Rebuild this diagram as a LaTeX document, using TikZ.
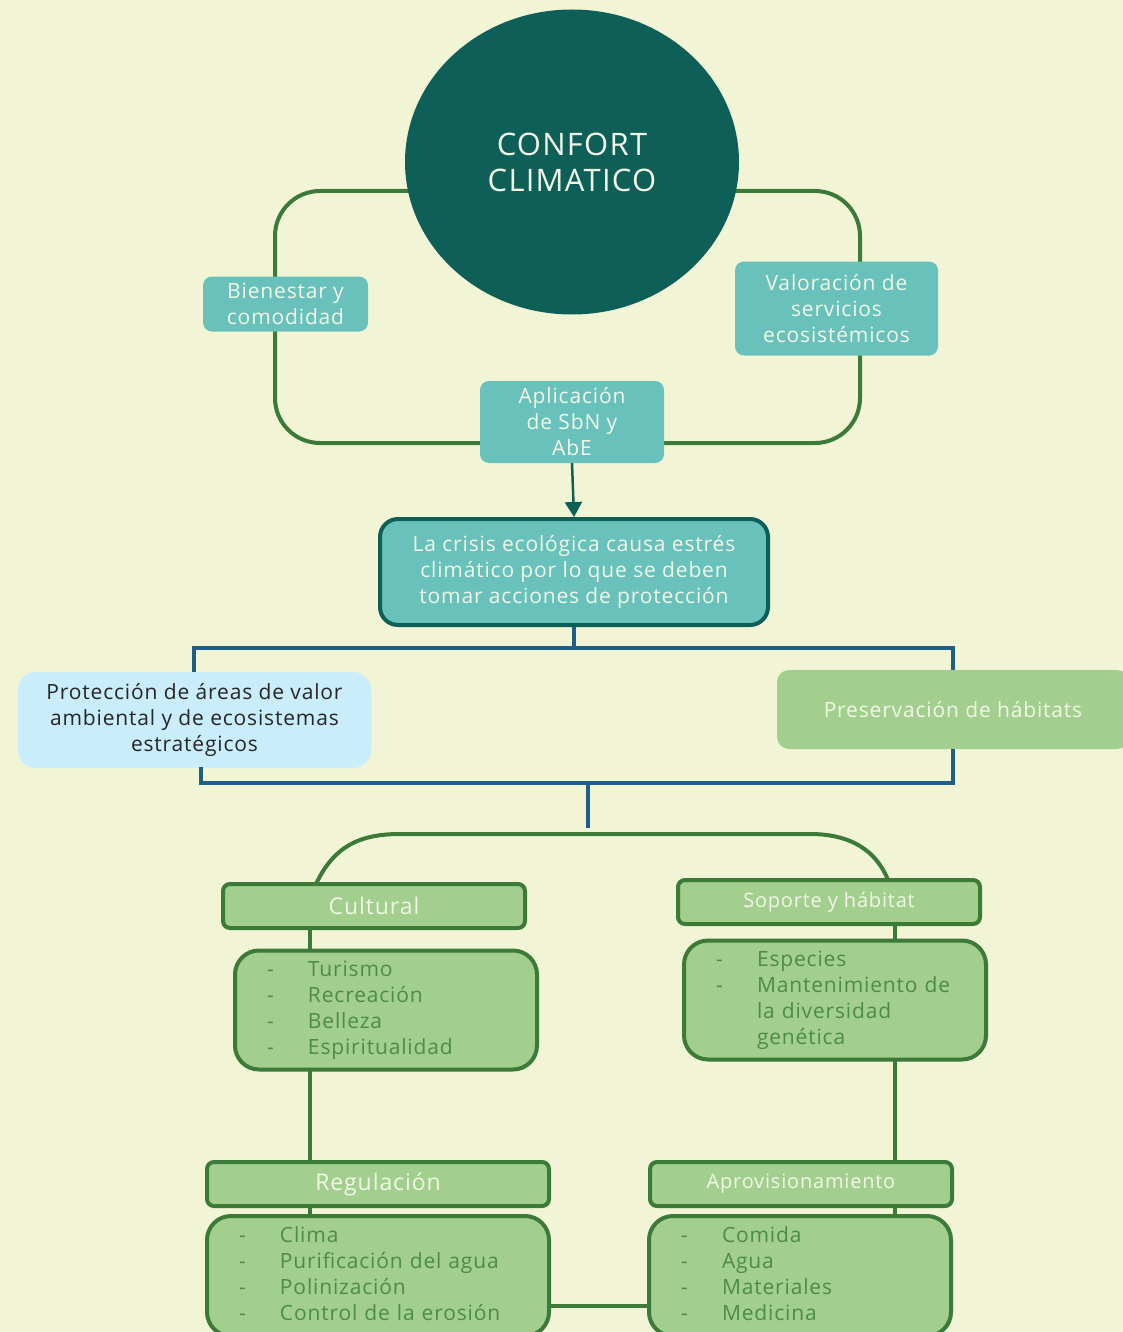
\documentclass[tikz,border=0pt]{standalone}
\usepackage{fontspec}
\setmainfont{Open Sans}[LetterSpace=4]
\usetikzlibrary{arrows.meta}
\usetikzlibrary{shapes.geometric}
\definecolor{fondo}{HTML}{F1F5D5}
\definecolor{oscuro}{HTML}{0D5F57}
\definecolor{turquesa}{HTML}{69C1BC}
\definecolor{verde}{HTML}{3B7A37}
\definecolor{verdeclaro}{HTML}{A2CE8E}
\definecolor{celeste}{HTML}{C9EDFA}
\definecolor{azul}{HTML}{1D5F86}
\definecolor{textoverde}{HTML}{4D8B49}
\definecolor{blanco}{HTML}{F2F7E6}
\tikzset{tealbox/.style = {fill=turquesa, rounded corners=9pt, text=blanco,
                           align=center, inner sep=0pt,
                           font=\fontsize{21}{26}\selectfont},
         greenline/.style = {draw=verde, line width=4pt},
         blueline/.style = {draw=azul, line width=3.5pt},
         titlebox/.style = {draw=verde, line width=4pt, fill=verdeclaro,
                            rounded corners=7pt, text=blanco, inner sep=0pt,
                            minimum height=44pt},
         listbox/.style = {draw=verde, line width=4pt, fill=verdeclaro,
                           rounded corners=24pt, text=textoverde, align=left,
                           inner xsep=32pt, inner ysep=0pt, text width=238pt,
                           font=\fontsize{21}{26}\selectfont}}
\newcommand{\itemlist}[1]{\begin{tabular}{@{}p{41pt}@{}l@{}}#1\end{tabular}}

\begin{document}
\begin{tikzpicture}[x=1pt, y=-1pt]
    \useasboundingbox (0,0) rectangle (1123,1332);
    \fill[fondo] (0,0) rectangle (1123,1332);

    % parte superior
    \draw[greenline, rounded corners=45pt] (275,191) rectangle (860,443);
    \node[ellipse, fill=oscuro, minimum width=334pt, minimum height=305pt,
          text=blanco, align=center, font=\fontsize{31}{36}\selectfont]
          (confort) at (572,162) {CONFORT\\CLIMATICO};
    \node[tealbox, minimum width=165pt, minimum height=55pt] (bienestar)
          at (285.5,304) {Bienestar y\\comodidad};
    \node[tealbox, minimum width=203pt, minimum height=94pt] (valoracion)
          at (836.5,308.5) {Valoración de\\servicios\\ecosistémicos};
    \node[tealbox, minimum width=184pt, minimum height=82pt] (aplicacion)
          at (572,422) {Aplicación\\de SbN y\\AbE};
    \node[tealbox, draw=oscuro, line width=4pt, rounded corners=18pt,
          minimum width=388pt, minimum height=106pt] (crisis)
          at (574,572) {La crisis ecológica causa estrés\\climático por lo que se deben\\tomar acciones de protección};
    \draw[draw=oscuro, line width=2.5pt, -{Triangle[length=15pt, width=17pt]}]
          (aplicacion.south) -- (crisis.north);

    % acciones
    \node[fill=celeste, rounded corners=18pt, align=center, inner sep=0pt,
          text=black!85, minimum width=353pt, minimum height=96pt,
          font=\fontsize{21}{26}\selectfont] (proteccion)
          at (194.5,720) {Protección de áreas de valor\\ambiental y de ecosistemas\\estratégicos};
    \node[fill=verdeclaro, rounded corners=12pt, inner sep=0pt, text=blanco,
          minimum width=352pt, minimum height=79pt,
          font=\fontsize{21}{26}\selectfont] (preservacion)
          at (953,709.5) {Preservación de hábitats};
    \draw[blueline] (crisis.south) -- (574,648);
    \draw[blueline] (194,672) -- (194,648) -- (953,648) -- (953,670);
    \draw[blueline] (201,767) -- (201,783) -- (953,783) -- (953,749);
    \draw[blueline] (588,783) -- (588,828);

    % servicios ecosistemicos
    \draw[greenline] (316,884) .. controls (334,846) and (360,834) .. (400,834)
          -- (810,834) .. controls (850,834) and (876,850) .. (888,880);
    \draw[greenline] (310,927) -- (310,1161);
    \draw[greenline] (895,923) -- (895,1161);
    \draw[greenline] (310,1205) -- (310,1214);
    \draw[greenline] (895,1205) -- (895,1214);
    \draw[greenline] (549,1306) -- (650,1306);

    \node[titlebox, minimum width=302pt, font=\fontsize{23}{28}\selectfont]
          (cultural) at (374,906) {Cultural};
    \node[listbox, minimum height=119pt] (culturallista) at (386,1010)
          {\itemlist{-&Turismo\\-&Recreación\\-&Belleza\\-&Espiritualidad}};

    \node[titlebox, minimum width=302pt, font=\fontsize{20}{26}\selectfont]
          (soporte) at (829,902) {Soporte y hábitat};
    \node[listbox, minimum height=119pt] (soportelista) at (835,1000)
          {\itemlist{-&Especies\\-&Mantenimiento de\\&la diversidad\\&genética}};

    \node[titlebox, minimum width=342pt, font=\fontsize{23}{28}\selectfont]
          (regulacion) at (378,1184) {Regulación};
    \node[listbox, text width=278pt, minimum height=120pt] (regulacionlista)
          at (378,1276) {\itemlist{-&Clima\\-&Purificación del agua\\-&Polinización\\-&Control de la erosión}};

    \node[titlebox, minimum width=302pt, font=\fontsize{20}{26}\selectfont]
          (aprovisionamiento) at (801,1184) {Aprovisionamiento};
    \node[listbox, minimum height=120pt] (aprovisionamientolista) at (800,1276)
          {\itemlist{-&Comida\\-&Agua\\-&Materiales\\-&Medicina}};
\end{tikzpicture}
\end{document}
